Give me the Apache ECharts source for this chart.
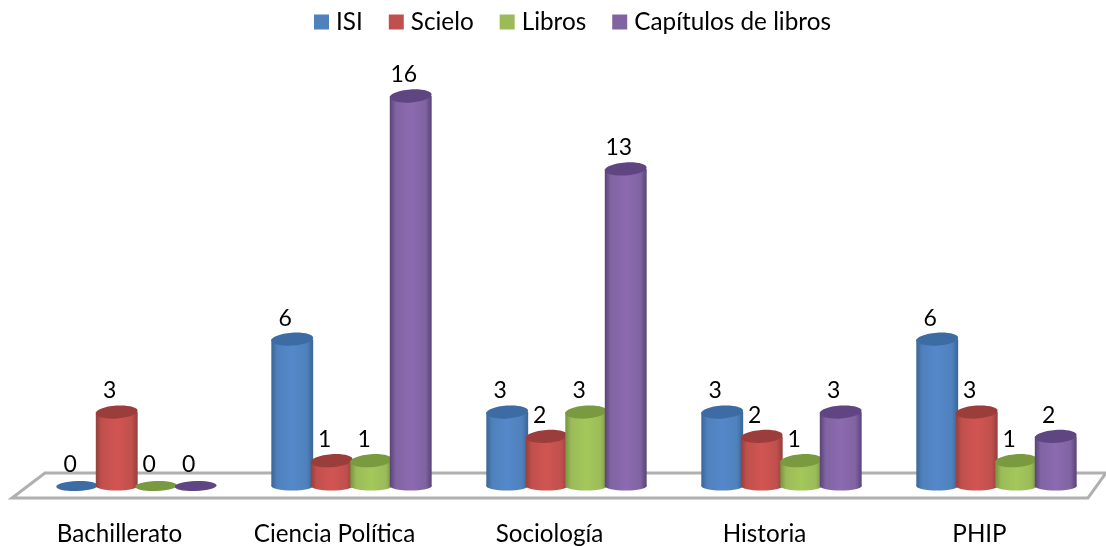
<!DOCTYPE html>
<html><head><meta charset="utf-8">
<style>html,body{margin:0;padding:0;background:#fff}#c{width:1106px;height:546px}</style>
<script src="https://cdn.jsdelivr.net/npm/echarts@6/dist/echarts.min.js"></script>
</head><body><div id="c"></div>
<script>
const categories = ['Bachillerato','Ciencia Política','Sociología','Historia','PHIP'];
const seriesNames = ['ISI','Scielo','Libros','Capítulos de libros'];
const isi = [0,6,3,3,6];
const scielo = [3,1,2,2,3];
const libros = [0,1,3,1,1];
const capitulos = [0,16,13,3,2];
const valuesBySeries = [isi,scielo,libros,capitulos];
const palette = [
 {edge:'#3a6596',mid:'#5588c9',top:'#3d6ba3',flat:'#4F81BD'},
 {edge:'#963f3c',mid:'#d15552',top:'#9a3d3b',flat:'#C0504D'},
 {edge:'#76943f',mid:'#a4c85b',top:'#7a9a40',flat:'#9BBB59'},
 {edge:'#5a4279',mid:'#8c6ab0',top:'#5f4682',flat:'#8064A2'}
];
const FONT = 'Lato, Carlito, "Open Sans", sans-serif';
const chart = echarts.init(document.getElementById('c'), null, {renderer:'canvas'});

function cylinder(si){
  return function(params, api){
    const c = palette[si];
    const v = api.value(1);
    const band = api.size([1,0])[0];
    const step = band*0.1837, rx = step*0.53, ry = 6.5;
    const depth = band*0.079;
    const pt = api.coord([api.value(0), v]);
    const base = api.coord([api.value(0), 0]);
    const cx = pt[0] + depth + (si-1.5)*step;
    const topY = pt[1] + (v===0?1:0), baseY = base[1]+1;
    const tilt = 0.07;
    const grad = new echarts.graphic.LinearGradient(0,0,1,0,[
      {offset:0,color:c.edge},{offset:0.14,color:c.flat},{offset:0.5,color:c.mid},
      {offset:0.85,color:c.flat},{offset:1,color:c.edge}]);
    const children = [];
    if(v>0){
      children.push({type:'ellipse',shape:{cx:cx,cy:baseY,rx:rx,ry:4.5},style:{fill:grad}});
      children.push({type:'rect',shape:{x:cx-rx,y:topY,width:rx*2,height:baseY-topY},style:{fill:grad}});
    }
    children.push({type:'ellipse',shape:{cx:cx,cy:topY,rx:rx,ry:v===0?5:ry},rotation:v===0?0.03:tilt,originX:cx,originY:topY,style:{fill:c.top}});
    children.push({type:'text',style:{text:String(v),x:cx-7,y:topY-21,align:'center',verticalAlign:'middle',fill:'#000',font:'23px '+FONT},z2:10});
    return {type:'group',children:children};
  };
}
function floor(params, api){
  const g = params.coordSys;
  const frontY = g.y+g.height+13, backY = g.y+g.height-12;
  const pts = [[12,frontY],[45,backY],[1106,backY],[1088,frontY]];
  return {type:'polygon',shape:{points:pts},style:{fill:'#fff',stroke:'#b0b0b0',lineWidth:3},silent:true};
}

const series = [{type:'custom',name:'floor',renderItem:floor,data:[[0,0]],coordinateSystem:'cartesian2d',silent:true,z:1,encode:{x:0,y:1}}];
seriesNames.forEach((n,si)=>{
  series.push({type:'custom',name:n,coordinateSystem:'cartesian2d',renderItem:cylinder(si),
    itemStyle:{color:palette[si].flat},z:2+si,encode:{x:0,y:1},
    data:valuesBySeries[si].map((v,i)=>[i,v])});
});

chart.setOption({
  animation:false,
  backgroundColor:'#fff',
  legend:{data:seriesNames.map(n=>({name:n,icon:'rect'})),left:314,top:10,padding:0,itemWidth:15,itemHeight:15,itemGap:26,
    textStyle:{fontFamily:FONT,fontSize:24.3,color:'#000',padding:[0,0,0,2]}},
  grid:{left:12,right:19,top:96,bottom:61},
  xAxis:{type:'category',data:categories,axisLine:{show:false},axisTick:{show:false},
    axisLabel:{fontFamily:FONT,fontSize:24.2,color:'#000',margin:37,interval:0}},
  yAxis:{type:'value',min:0,max:16,show:false},
  series:series
});
</script></body></html>
